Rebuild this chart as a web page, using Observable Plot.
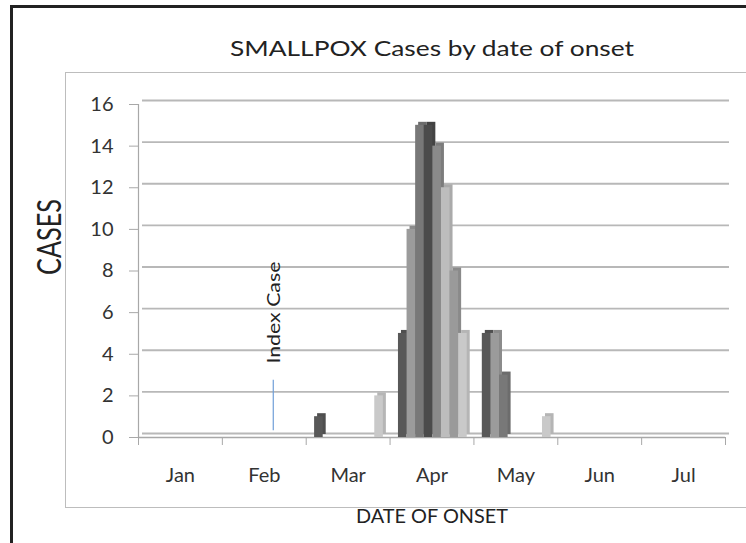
<!DOCTYPE html>
<html><head><meta charset="utf-8">
<script src="https://cdn.jsdelivr.net/npm/d3@7"></script>
<script src="https://cdn.jsdelivr.net/npm/@observablehq/plot@0.6"></script>
<style>
html,body{margin:0;padding:0;background:#fff}
#wrap{position:relative;width:746px;height:543px;overflow:hidden;background:#fff}
.outer{position:absolute;left:10px;top:5px;width:800px;height:600px;border:3px solid #222;box-sizing:border-box}
.inner{position:absolute;left:65px;top:72px;width:720px;height:436px;border:1px solid #bdbdbd;box-sizing:border-box}
#chart{position:absolute;left:0;top:0}
</style></head><body>
<div id="wrap"><div class="outer"></div><div class="inner"></div><div id="chart"></div></div>
<script>
// ---- data ----
const months = ["Jan", "Feb", "Mar", "Apr", "May", "Jun", "Jul"];
const seriesColors = ["#585858", "#9b9b9b", "#787878", "#4b4b4b", "#8a8a8a", "#bdbdbd", "#9a9a9a", "#c9c9c9"];
const marCases = [1, 0, 0, 0, 0, 0, 0, 2];
const aprCases = [5, 10, 15, 15, 14, 12, 8, 5];
const mayCases = [5, 5, 3, 0, 0, 0, 0, 1];
const yTicks = [0, 2, 4, 6, 8, 10, 12, 14, 16];
const indexCase = {month: "Feb", day: 17, daysInMonth: 28, label: "Index Case"};
const titleText = "SMALLPOX Cases by date of onset";
const xTitle = "DATE OF ONSET";
const yTitle = "CASES";

// ---- table ----
const casesByMonth = {Mar: marCases, Apr: aprCases, May: mayCases};
const PAD = 0.1, BW = 0.1025; // layout of the 8 clustered bars inside a month slot
const bars = months.flatMap((m, mi) => (casesByMonth[m] || []).map((v, s) => ({month: m, mi, s, v})))
  .filter(d => d.v > 0);
const darker = c => d3.color(c).darker(0.3).formatHex();
const idxX = months.indexOf(indexCase.month) + indexCase.day / indexCase.daysInMonth;

const chart = Plot.plot({
  width: 746, height: 543,
  marginLeft: 138, marginRight: 21, marginTop: 104, marginBottom: 106,
  style: {fontFamily: "Lato, 'Open Sans', sans-serif", background: "transparent", color: "#333"},
  x: {type: "linear", domain: [0, months.length]},
  y: {domain: [0, 16]},
  marks: [
    // back wall gridlines
    Plot.ruleY(yTicks.filter(d => d > 0), {x1: 0, x2: months.length, dx: 4, dy: -4, stroke: "#b8b8b8", strokeWidth: 1.8}),
    // floor
    Plot.ruleY([0], {x1: 0, x2: months.length, dx: 4, dy: -4, stroke: "#b8b8b8", strokeWidth: 1.8}),
    Plot.ruleY([0], {x1: 0, x2: months.length, stroke: "#a8a8a8", strokeWidth: 1.4}),
    Plot.ruleX([0], {y1: 0, y2: 16, stroke: "#a8a8a8", strokeWidth: 1.2}),
    // bar back faces (3D depth)
    Plot.rectY(bars, {x1: d => d.mi + PAD + d.s * BW, x2: d => d.mi + PAD + (d.s + 1) * BW, y1: 0, y2: "v",
      dx: 3, dy: -3, fill: d => darker(seriesColors[d.s])}),
    // bar front faces
    Plot.rectY(bars, {x1: d => d.mi + PAD + d.s * BW, x2: d => d.mi + PAD + (d.s + 1) * BW, y1: 0, y2: "v",
      fill: d => seriesColors[d.s]}),
    // axes
    Plot.axisY({ticks: yTicks, tickSize: 9, tickPadding: 16, fontSize: 20, stroke: "#a8a8a8", label: null}),
    Plot.axisX({ticks: d3.range(months.length + 1), tickSize: 8, tickFormat: () => "", stroke: "#a8a8a8", label: null}),
    Plot.axisX({ticks: months.map((m, i) => i + 0.5), tickSize: 0, tickPadding: 30, fontSize: 20,
      tickFormat: d => months[Math.floor(d)], label: null}),
    // index case annotation
    Plot.ruleX([idxX], {y1: 0.33, y2: 2.75, stroke: "#6f9fd8", strokeWidth: 1.2}),
    Plot.text([indexCase.label], {x: idxX, y: 3.55, rotate: -90, textAnchor: "start", dx: 1, fontSize: 17, fill: "#222"}),
    // titles
    Plot.text([titleText], {frameAnchor: "top", dy: -64, fontSize: 22, fill: "#222"}),
    Plot.text([yTitle], {frameAnchor: "left", rotate: -90, dx: -88, dy: 4, fontSize: 33, fill: "#222"}),
    Plot.text([xTitle], {frameAnchor: "bottom", dy: 85, fontSize: 20, fill: "#222"})
  ]
});
document.getElementById("chart").appendChild(chart);
const stretch = {[titleText]: 404, [yTitle]: 76, [xTitle]: 152, [indexCase.label]: 102};
d3.select(chart).selectAll("text").each(function() {
  const t = this.textContent;
  if (stretch[t]) d3.select(this).attr("textLength", stretch[t]).attr("lengthAdjust", "spacingAndGlyphs");
});
</script>
</body></html>
